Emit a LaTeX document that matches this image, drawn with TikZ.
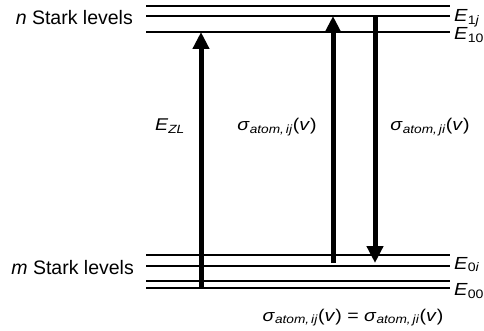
\documentclass[tikz,border=0pt]{standalone}
\usepackage{fontspec}
\setmainfont{Liberation Sans}
\newfontfamily\rotulofont[FakeStretch=1.15]{Liberation Sans}
\newfontfamily\energiafont[FakeStretch=1.15]{Liberation Sans}
\usetikzlibrary{arrows.meta}
\newcommand{\sbx}[1]{\textsubscript{#1}}
\newcommand{\sigat}[1]{\textit{σ}\sbx{\textit{atom,\,#1}}(\textit{v})}

\begin{document}
\begin{tikzpicture}[
  x=1pt,y=-1pt,
  nivel/.style={line width=2pt},
  seta/.style={-{Triangle[length=17pt,width=16pt]},line width=5pt},
  rotulo/.style={font=\rotulofont\fontsize{17}{20}\selectfont,inner sep=0pt,anchor=base},
  grupo/.style={font=\fontsize{19.5}{22}\selectfont,inner sep=0pt,anchor=base east},
  energia/.style={font=\energiafont\fontsize{17.5}{19}\selectfont,inner sep=0pt,anchor=base west}
]
  \useasboundingbox (0,0) rectangle (484,331);
  % niveis de Stark
  \foreach \y/\nome in {6/n2,16/n1j,32/n10,255/m2,266/m0i,281/m1,288/m00} {
    \coordinate (\nome-w) at (146,\y);
    \coordinate (\nome-e) at (450,\y);
    \draw[nivel] (\nome-w) -- (\nome-e);
  }
  \node[grupo] (ngrupo) at (133,25) {\textit{n} Stark levels};
  \node[grupo] (mgrupo) at (134,274) {\textit{m} Stark levels};
  \node[energia] (e1j) at (454,22) {\textit{E}\sbx{1\textit{j}}};
  \node[energia] (e10) at (454,39.5) {\textit{E}\sbx{10}};
  \node[energia] (e0i) at (454,269) {\textit{E}\sbx{0\textit{i}}};
  \node[energia] (e00) at (454,295.5) {\textit{E}\sbx{00}};
  % transicoes
  \coordinate (zl-a) at (201,288);
  \coordinate (zl-b) at (201,32);
  \coordinate (ij-a) at (333,263);
  \coordinate (ij-b) at (333,16);
  \coordinate (ji-a) at (375,16);
  \coordinate (ji-b) at (375,263);
  \draw[seta] (zl-a) -- (zl-b);
  \draw[seta] (ij-a) -- (ij-b);
  \draw[seta] (ji-a) -- (ji-b);
  \node[rotulo] (ezl) at (170,131) {\textit{E}\sbx{\textit{ZL}}};
  \node[rotulo] (sij) at (277,131) {\sigat{ij}};
  \node[rotulo] (sji) at (430,131) {\sigat{ji}};
  \node[rotulo] (igual) at (353,321) {\sigat{ij} = \sigat{ji}};
\end{tikzpicture}
\end{document}
